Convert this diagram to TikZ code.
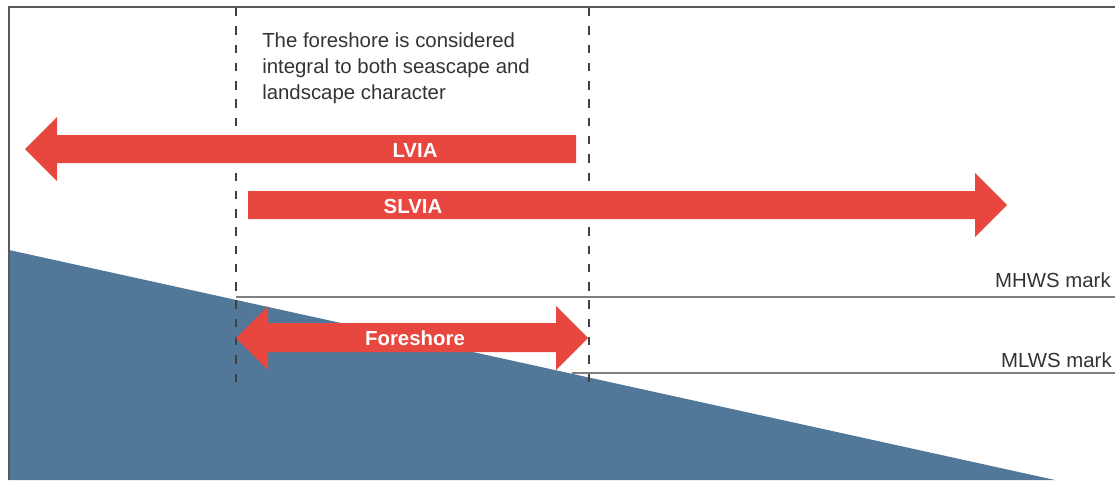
\documentclass[tikz,border=0pt]{standalone}
\usepackage{fontspec}
\setmainfont{Liberation Sans}
\usepackage{xcolor}
\usetikzlibrary{calc}
\definecolor{seablue}{RGB}{82,120,153}
\definecolor{bandred}{RGB}{232,71,63}
\definecolor{inkgray}{RGB}{51,51,51}
\tikzset{
    frameline/.style={draw=black!65, line width=1.1pt},
    zone/.style={draw=black!75, line width=1.5pt, dash pattern=on 6pt off 7pt},
    tide/.style={draw=black!50, line width=0.9pt},
    sea/.style={fill=seablue},
    band/.style={fill=bandred},
    bandlabel/.style={text=white, font=\bfseries\fontsize{14.5}{17}\selectfont},
    note/.style={text=inkgray, font=\fontsize{14.5}{18.5}\selectfont, inner sep=0pt},
}

\begin{document}
\begin{tikzpicture}[x=0.025cm, y=-0.025cm]
        \useasboundingbox (0,0) rectangle (1115,480);
        \fill[sea] (9,250) -- (1055,480) -- (9,480) -- cycle;
        \draw[frameline] (1115,7) -- (9,7) -- (9,480);
        \foreach \x in {236,589} \draw[zone] (\x,8) -- (\x,384);
        \node[note, anchor=base east] (mhws) at (1111,287) {MHWS mark};
        \node[note, anchor=base east] (mlws) at (1112,367) {MLWS mark};
        \coordinate (hw) at (236,297);
        \coordinate (lw) at (572,373);
        \draw[tide] (hw) -- (1115,297);
        \draw[tide] (lw) -- (1115,373);
        \fill[band] (25,149) -- (57,117) -- (57,135) -- (576,135) -- (576,163)
            -- (57,163) -- (57,181) -- cycle;
        \fill[band] (248,191) -- (975,191) -- (975,173) -- (1007,205) -- (975,237)
            -- (975,219) -- (248,219) -- cycle;
        \fill[band] (236,338) -- (268,306) -- (268,323) -- (556,323) -- (556,306)
            -- (588,338) -- (556,370) -- (556,352) -- (268,352) -- (268,370) -- cycle;
        \node[bandlabel] (lvia) at (415,150) {LVIA};
        \node[bandlabel] (slvia) at (413,206) {SLVIA};
        \node[bandlabel] (fore) at (415,338) {Foreshore};
        \node[note, anchor=north west, align=left] (remark) at (262,32)
            {The foreshore is considered\\integral to both seascape and\\landscape character};
    \end{tikzpicture}
\end{document}
